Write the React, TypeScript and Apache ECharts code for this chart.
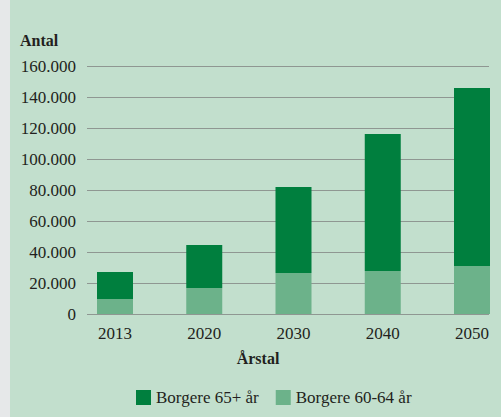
import React, { useEffect, useRef } from "react";
import * as echarts from "echarts";

const years = ["2013", "2020", "2030", "2040", "2050"];
const seniors65 = [17400, 27700, 55400, 88400, 114800];
const seniors6064 = [9700, 16800, 26500, 27700, 31000];
const yTicks = [0, 20000, 40000, 60000, 80000, 100000, 120000, 140000, 160000];

const FONT = "Liberation Serif";
const TEXT = "#231f20";

const fmt = (v: number) => {
  if (v === 0) return "0";
  const s = String(v);
  return s.slice(0, s.length - 3) + "." + s.slice(-3);
};

export default function App() {
  const ref = useRef<HTMLDivElement>(null);
  useEffect(() => {
    if (!ref.current) return;
    const chart = echarts.init(ref.current, undefined, { renderer: "svg" });
    const yMax = yTicks[yTicks.length - 1];
    chart.setOption({
      animation: false,
      backgroundColor: "#c2dfcd",
      textStyle: { fontFamily: FONT },
      grid: [
        { left: 87, right: 12, top: 66, bottom: 103 },
        { left: 115, width: 357, top: 66, bottom: 103 },
      ],
      xAxis: [
        { type: "value", gridIndex: 0, show: false, min: 0, max: 1 },
        {
          type: "category",
          gridIndex: 1,
          data: years,
          boundaryGap: false,
          axisLine: { show: false },
          axisTick: { show: false },
          splitLine: { show: false },
          axisLabel: {
            margin: 11,
            fontSize: 17,
            color: TEXT,
            fontFamily: FONT,
            interval: 0,
          },
        },
      ],
      yAxis: [
        {
          type: "value",
          gridIndex: 0,
          min: 0,
          max: yMax,
          interval: 20000,
          axisLine: { show: false },
          axisTick: { show: false },
          splitLine: { lineStyle: { color: "#8f9792", width: 1 } },
          axisLabel: {
            margin: 11,
            fontSize: 17,
            color: TEXT,
            fontFamily: FONT,
            formatter: (v: number) => fmt(v),
          },
        },
        {
          type: "value",
          gridIndex: 1,
          min: 0,
          max: yMax,
          show: false,
        },
      ],
      legend: {
        data: ["Borgere 65+ år", "Borgere 60-64 år"],
        left: 131,
        top: 384,
        itemWidth: 15,
        itemHeight: 15,
        itemGap: 17,
        icon: "rect",
        textStyle: { fontSize: 17, color: TEXT, fontFamily: FONT },
      },
      graphic: [
        {
          type: "rect",
          shape: { x: 0, y: 0, width: 10, height: 417 },
          style: { fill: "#e6e8e9" },
          silent: true,
        },
        {
          type: "text",
          left: 20,
          top: 32,
          style: { text: "Antal", font: `bold 16px "${FONT}"`, fill: TEXT },
        },
        {
          type: "text",
          x: 258,
          y: 358,
          style: {
            text: "Årstal",
            font: `bold 16px "${FONT}"`,
            fill: TEXT,
            textAlign: "center",
            textVerticalAlign: "middle",
          },
        },
      ],
      series: [
        {
          name: "Borgere 60-64 år",
          type: "bar",
          xAxisIndex: 1,
          yAxisIndex: 1,
          stack: "total",
          barWidth: 36,
          data: seniors6064,
          itemStyle: { color: "#6cb28a" },
        },
        {
          name: "Borgere 65+ år",
          type: "bar",
          xAxisIndex: 1,
          yAxisIndex: 1,
          stack: "total",
          barWidth: 36,
          data: seniors65,
          itemStyle: { color: "#007f3e" },
        },
      ],
    });
    return () => chart.dispose();
  }, []);
  return (
    <div
      ref={ref}
      style={{ position: "absolute", left: 0, top: 0, width: 501, height: 417 }}
    />
  );
}
